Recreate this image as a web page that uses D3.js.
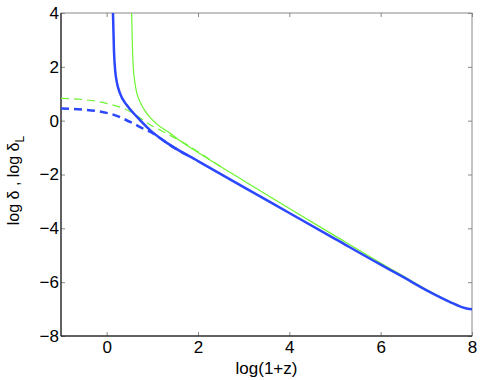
<!DOCTYPE html>
<html>
<head>
<meta charset="utf-8">
<script src="https://cdn.jsdelivr.net/npm/d3@7"></script>
<style>
  body { margin: 0; background: #fff; }
  text { font-family: "Liberation Sans", Arial, sans-serif; }
</style>
</head>
<body>
<div id="chart"></div>
<script>
// Chart size
const chartWidth = 480;
const chartHeight = 380;
const margin = {left: 61, right: 8, top: 13, bottom: 44};

// Curves: x = log(1+z), y = log delta
const blueSolidX = [0.138, 0.16, 0.19, 0.22, 0.29, 0.44, 0.66, 0.95, 1.385, 2.0, 3.0, 4.0, 5.0, 6.0, 6.42, 7.07, 7.51, 7.84, 8.0];
const blueSolidY = [4.0, 2.6, 1.8, 1.45, 1.02, 0.58, 0.15, -0.35, -0.9, -1.5, -2.47, -3.43, -4.39, -5.35, -5.74, -6.36, -6.73, -6.96, -7.01];

const greenSolidX = [0.547, 0.56, 0.582, 0.62, 0.656, 0.72, 0.82, 0.95, 1.1, 1.4, 1.6, 2.0, 3.0, 4.0, 5.0, 6.0, 6.42, 7.07, 7.51, 7.84, 8.0];
const greenSolidY = [4.0, 3.0, 2.0, 1.4, 1.05, 0.74, 0.42, 0.12, -0.13, -0.48, -0.74, -1.18, -2.23, -3.26, -4.28, -5.29, -5.7, -6.34, -6.72, -6.95, -7.0];

const blueDashX = [-1, -0.5, -0.18, 0.0, 0.22, 0.33, 0.58, 0.84, 0.95, 1.31, 1.5, 1.8];
const blueDashY = [0.45, 0.41, 0.35, 0.29, 0.18, 0.1, -0.1, -0.33, -0.41, -0.82, -1.03, -1.31];

const greenDashX = [-1, -0.5, -0.18, 0.1, 0.33, 0.5, 0.69, 0.95, 1.17, 1.6, 1.9, 2.2, 2.5];
const greenDashY = [0.83, 0.78, 0.71, 0.6, 0.48, 0.35, 0.15, -0.15, -0.35, -0.74, -1.04, -1.38, -1.71];

const xTicks = [0, 2, 4, 6, 8];
const yTicks = [-8, -6, -4, -2, 0, 2, 4];

const blueColor = "#2b48ff";
const greenColor = "#6cf530";

let svg = d3.select("#chart").append("svg")
            .attr("width", chartWidth)
            .attr("height", chartHeight);

let x = d3.scaleLinear().domain([-1, 8]).range([margin.left, chartWidth - margin.right]);
let y = d3.scaleLinear().domain([-8, 4]).range([chartHeight - margin.bottom, margin.top]);

// Box: top and right in grey
svg.append("rect")
   .attr("x", x(-1)).attr("y", y(4))
   .attr("width", x(8) - x(-1)).attr("height", y(-8) - y(4))
   .style("fill", "none").style("stroke", "#888");

function styleAxis(g) {
  g.select(".domain").remove();
  g.selectAll(".tick line").style("stroke", "#888");
  g.selectAll("text").style("font-size", "17px").style("fill", "#000");
}

svg.append("g")
   .attr("transform", "translate(0," + y(-8) + ")")
   .call(d3.axisBottom(x).tickValues(xTicks).tickSize(-4).tickPadding(5))
   .call(styleAxis);

svg.append("g")
   .attr("transform", "translate(0," + y(4) + ")")
   .call(d3.axisTop(x).tickValues(xTicks).tickSize(-4).tickFormat(""))
   .call(styleAxis);

svg.append("g")
   .attr("transform", "translate(" + x(-1) + ",0)")
   .call(d3.axisLeft(y).tickValues(yTicks).tickSize(-4).tickPadding(2))
   .call(styleAxis);

svg.append("g")
   .attr("transform", "translate(" + x(8) + ",0)")
   .call(d3.axisRight(y).tickValues(yTicks).tickSize(-4).tickFormat(""))
   .call(styleAxis);

// left and bottom axis lines in black
svg.append("line")
   .attr("x1", x(-1)).attr("x2", x(-1)).attr("y1", y(-8)).attr("y2", y(4))
   .style("stroke", "#000");
svg.append("line")
   .attr("x1", x(-1)).attr("x2", x(8)).attr("y1", y(-8)).attr("y2", y(-8))
   .style("stroke", "#000");

// clip to plot area
svg.append("clipPath").attr("id", "plot-clip")
   .append("rect")
   .attr("x", x(-1)).attr("y", y(4))
   .attr("width", x(8) - x(-1)).attr("height", y(-8) - y(4));

let line = d3.line()
             .x(function(d) {return x(d[0])})
             .y(function(d) {return y(d[1])})
             .curve(d3.curveMonotoneX);

function zipXY(xs, ys) {
  return xs.map(function(v, i) {return [v, ys[i]]});
}

let curves = [
  {xs: greenDashX, ys: greenDashY, color: greenColor, width: 1.2, dash: "8,5"},
  {xs: blueDashX, ys: blueDashY, color: blueColor, width: 2.5, dash: "8,5"},
  {xs: greenSolidX, ys: greenSolidY, color: greenColor, width: 1.2, dash: null},
  {xs: blueSolidX, ys: blueSolidY, color: blueColor, width: 2.5, dash: null}
];

let plot = svg.append("g").attr("clip-path", "url(#plot-clip)");

plot.selectAll("path")
    .data(curves)
    .enter()
    .append("path")
    .attr("d", function(d) {return line(zipXY(d.xs, d.ys))})
    .style("fill", "none")
    .style("stroke", function(d) {return d.color})
    .style("stroke-width", function(d) {return d.width})
    .style("stroke-dasharray", function(d) {return d.dash});

// Axis labels
svg.append("text")
   .attr("x", (x(-1) + x(8)) / 2)
   .attr("y", 374)
   .attr("text-anchor", "middle")
   .style("font-size", "17px")
   .text("log(1+z)");

let yLabel = svg.append("text")
   .attr("transform", "translate(19," + ((y(-8) + y(4)) / 2 + 6) + ") rotate(-90)")
   .attr("text-anchor", "middle")
   .style("font-size", "16px");
yLabel.append("tspan").text("log δ , log δ");
yLabel.append("tspan").attr("dy", 5).style("font-size", "12px").text("L");
</script>
</body>
</html>
